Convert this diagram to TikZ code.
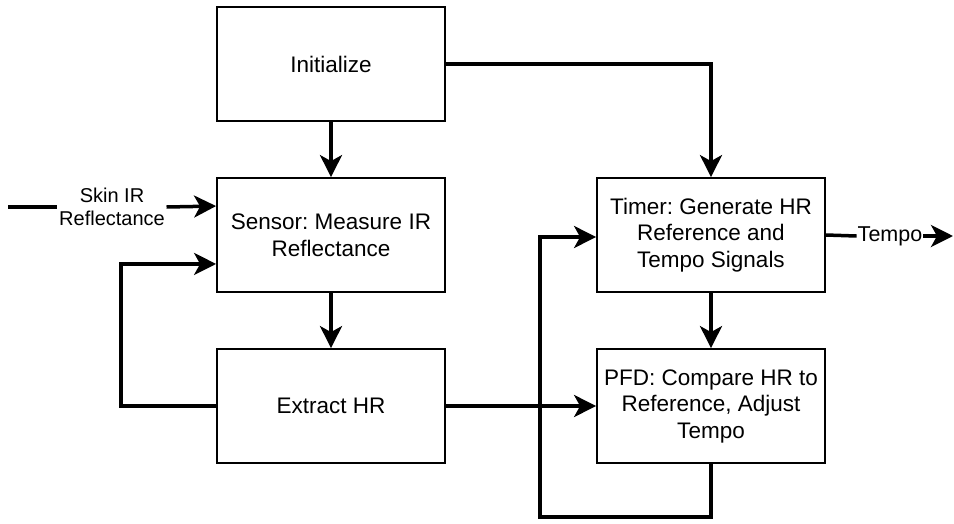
\documentclass[tikz,border=0pt]{standalone}
\usepackage{fontspec}
\setmainfont{Liberation Sans}
\usetikzlibrary{arrows.meta,calc}
\begin{document}
\frenchspacing
\begin{tikzpicture}[x=1pt,y=-1pt,
 box/.style={draw, line width=1.8pt, minimum width=228pt, minimum height=114pt, align=center, font=\fontsize{22.5}{26.5}\selectfont, inner sep=0pt},
 conn/.style={line width=3.5pt, -{Stealth[length=22pt,width=22pt,inset=6pt]}},
 plain/.style={line width=3.5pt},
 lbl/.style={font=\fontsize{20}{23}\selectfont, align=center, inner sep=1.5pt}]
\useasboundingbox (0,0) rectangle (954,523);
\node[box] (init) at (331,64) {Initialize};
\node[box] (sensor) at (331,235) {Sensor: Measure IR\\Reflectance};
\node[box] (extract) at (331,406) {Extract HR};
\node[box] (timer) at (711,235) {Timer: Generate HR\\Reference and\\Tempo Signals};
\node[box] (pfd) at (711,406) {PFD: Compare HR to\\Reference, Adjust\\Tempo};
\node[lbl] (skin) at (112,207) {Skin IR\\Reflectance};
\node[lbl, font=\fontsize{21.5}{24}\selectfont, inner sep=1pt] (tempo) at (890,236) {Tempo};
\coordinate (skinstart) at (8,207);
\coordinate (tempoend) at (953,236);

\draw[conn] (init) -- (sensor);
\draw[conn] (sensor) -- (extract);
\draw[conn] (timer) -- (pfd);
\draw[conn] (init.east) -| (timer.north);
\draw[plain] (skinstart) -- (skin.west);
\draw[conn] (skin.east) -- ($(sensor.west)!0.5!(sensor.north west)$);
\draw[conn] (extract.west) -- ++(-95,0) |- ($(sensor.west)!0.5!(sensor.south west)$);
\draw[conn] (extract.east) -- (pfd.west);
\draw[conn] (pfd.south) -- ++(0,53) -- ++(-171,0) |- ($(timer.west)+(0,2)$);
\draw[plain] (timer.east) -- (tempo.west);
\draw[conn] (tempo.east) -- (tempoend);
\end{tikzpicture}
\end{document}
